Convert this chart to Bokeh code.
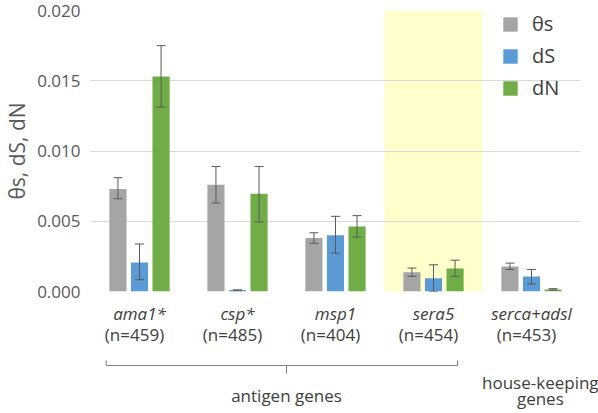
from bokeh.plotting import figure
from bokeh.layouts import column, row
from bokeh.models import (FactorRange, Range1d, ColumnDataSource, Whisker, TeeHead,
                          FixedTicker, NumeralTickFormatter)
from bokeh.transform import dodge
from bokeh.core.properties import value
from bokeh.embed import file_html
from bokeh.resources import INLINE

# ---- data ----
genes = ["ama1*", "csp*", "msp1", "sera5", "serca+adsl"]
n_labels = ["(n=459)", "(n=485)", "(n=404)", "(n=454)", "(n=453)"]

theta_s = [0.0073, 0.0076, 0.0038, 0.00137, 0.00178]
theta_s_lo = [0.0066, 0.0063, 0.00343, 0.00108, 0.00157]
theta_s_hi = [0.0081, 0.0089, 0.00418, 0.00167, 0.00202]

dS = [0.00206, 0.0001, 0.0040, 0.00094, 0.00106]
dS_lo = [0.00084, 0.00005, 0.00273, 0.0, 0.00054]
dS_hi = [0.00338, 0.00012, 0.00535, 0.0019, 0.00157]

dN = [0.0153, 0.00695, 0.00463, 0.00164, 0.00014]
dN_lo = [0.01312, 0.00495, 0.00387, 0.00108, 0.0001]
dN_hi = [0.0175, 0.0089, 0.0054, 0.00223, 0.0002]

series_names = ["θs", "dS", "dN"]
highlight_gene = "sera5"
y_ticks = [0.0, 0.005, 0.010, 0.015, 0.020]
bracket_group = ("antigen genes", "ama1*", "sera5")
single_group_lines = (["house-keeping", "genes"], "serca+adsl")

# ---- styles / layout ----
colors = ["#A5A5A5", "#5B9BD5", "#70AD47"]
FONT = "Open Sans"
TXT = "#404040"
W = 598
LEFT, RIGHT = 90, 18
BAND = (W - LEFT - RIGHT) / len(genes)
TOP_H = 303          # frame from y=10 to y=291, then 12px for the bottom tick label
BOT_H = 413 - TOP_H
AX = 291 - TOP_H     # axis line position relative to the lower panel (negative)

p = figure(x_range=FactorRange(*genes, range_padding=0, factor_padding=0),
           y_range=Range1d(0, 0.020),
           width=W, height=TOP_H, output_backend="svg", toolbar_location=None,
           min_border_left=LEFT, min_border_right=RIGHT, min_border_top=10, min_border_bottom=12)
p.outline_line_color = None

# highlighted band
p.vbar(x=[highlight_gene], top=[y_ticks[-1]], bottom=[0], width=1.0,
       fill_color="#FFFFCC", line_color=None, level="image")

src = ColumnDataSource(dict(x=genes, ts=theta_s, ts_lo=theta_s_lo, ts_hi=theta_s_hi,
                            ds=dS, ds_lo=dS_lo, ds_hi=dS_hi,
                            dn=dN, dn_lo=dN_lo, dn_hi=dN_hi))
offs = [-0.22, 0.0, 0.22]
keys = ["ts", "ds", "dn"]
for off, key, col, name in zip(offs, keys, colors, series_names):
    p.vbar(x=dodge("x", off, range=p.x_range), top=key, width=0.175, source=src,
           fill_color=col, line_color=None, legend_label=name)
for off, key in zip(offs, keys):
    w = Whisker(base=dodge("x", off, range=p.x_range), upper=key + "_hi", lower=key + "_lo",
                source=src, line_color="#595959", line_width=1, level="annotation",
                upper_head=TeeHead(size=9, line_color="#595959", line_width=1),
                lower_head=TeeHead(size=9, line_color="#595959", line_width=1))
    p.add_layout(w)

# axes
p.xaxis.visible = False
p.xgrid.grid_line_color = None
p.ygrid.grid_line_color = "#D9D9D9"
p.ygrid.ticker = FixedTicker(ticks=y_ticks)
p.yaxis.ticker = FixedTicker(ticks=y_ticks)
p.yaxis.formatter = NumeralTickFormatter(format="0.000")
p.yaxis.axis_line_color = None
p.yaxis.major_tick_line_color = None
p.yaxis.minor_tick_line_color = None
p.yaxis.major_tick_out = 0
p.yaxis.major_label_text_font = FONT
p.yaxis.major_label_text_font_size = "17px"
p.yaxis.major_label_text_color = "#595959"
p.yaxis.major_label_standoff = 10
p.yaxis.axis_label = "θs, dS, dN"
p.yaxis.axis_label_text_font = FONT
p.yaxis.axis_label_text_font_size = "21px"
p.yaxis.axis_label_text_font_style = "normal"
p.yaxis.axis_label_text_color = "#595959"
p.yaxis.axis_label_standoff = 3

# legend
lg = p.legend[0]
lg.location = "top_right"
lg.border_line_color = None
lg.background_fill_alpha = 0
lg.margin = 0
lg.padding = 5
lg.glyph_width = 18
lg.glyph_height = 18
lg.label_standoff = 13
lg.label_width = 48
lg.spacing = 5
lg.label_text_font = FONT
lg.label_text_font_size = "20px"
lg.label_text_color = TXT

# ---- lower panel: category labels and group bracket (pixel rows below the axis) ----
q = figure(x_range=Range1d(-LEFT / BAND, (W - LEFT) / BAND), y_range=Range1d(BOT_H, 0),
           width=W, height=BOT_H, output_backend="svg", toolbar_location=None,
           min_border=0)
q.axis.visible = False
q.grid.visible = False
q.outline_line_color = None

centers = [i + 0.5 for i in range(len(genes))]
q.text(x=centers, y=[AX + 22] * len(genes), text=genes, text_align="center",
       text_baseline="middle", text_font=value(FONT), text_font_size="17px",
       text_font_style="italic", text_color=TXT)
q.text(x=centers, y=[AX + 43] * len(genes), text=n_labels, x_offset=-5, text_align="center",
       text_baseline="middle", text_font=value(FONT), text_font_size="17px", text_color=TXT)

gname, first, last = bracket_group
i0, i1 = genes.index(first), genes.index(last)
x0 = centers[i0] - 0.34
x1 = centers[i1] + 0.245
xm = (centers[i0] + centers[i1]) / 2.0
q.multi_line(xs=[[x0, x0, x1, x1], [xm, xm]],
             ys=[[AX + 69, AX + 74, AX + 74, AX + 69], [AX + 74, AX + 82]],
             line_color="#7F7F7F", line_width=1)
q.text(x=[xm], y=[AX + 104], text=[gname], text_align="center", text_baseline="middle",
       text_font=value(FONT), text_font_size="17px", text_color=TXT)

lines, sgene = single_group_lines
si = genes.index(sgene)
q.text(x=[centers[si] + 0.09] * len(lines), y=[AX + 91, AX + 107][:len(lines)], text=lines,
       text_align="center", text_baseline="middle", text_font=value(FONT),
       text_font_size="17px", text_color=TXT)

layout = column(p, row(q), spacing=0)
open("out.html", "w").write(file_html(layout, INLINE))
